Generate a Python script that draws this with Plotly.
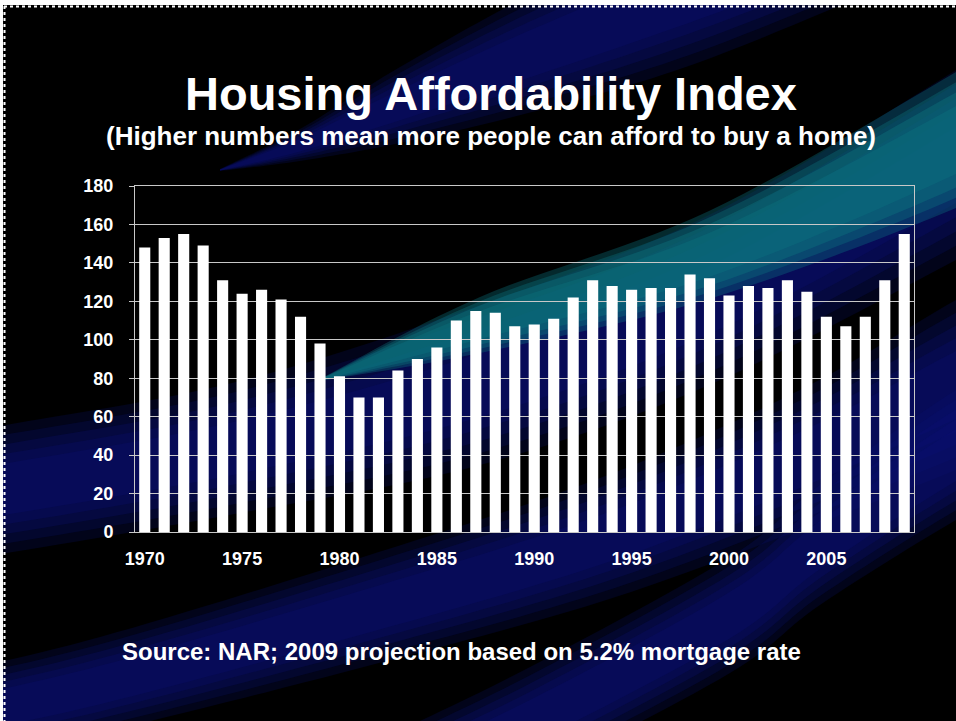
import numpy as np
import plotly.graph_objects as go

# ---------------- data ----------------
years = list(range(1970, 2010))
index_values = [148, 153, 155, 149, 131, 124, 126, 121, 112, 98,
                81, 70, 70, 84, 90, 96, 110, 115, 114, 107,
                108, 111, 122, 131, 128, 126, 127, 127, 134, 132,
                123, 128, 127, 131, 125, 112, 107, 112, 131, 155]
x_tick_vals = [1970, 1975, 1980, 1985, 1990, 1995, 2000, 2005]
x_tick_text = ["1970", "1975", "1980", "1985", "1990", "1995", "2000", "2005"]
y_tick_vals = [0, 20, 40, 60, 80, 100, 120, 140, 160, 180]

title_text = "Housing Affordability Index"
subtitle_text = "(Higher numbers mean more people can afford to buy a home)"
source_text = "Source: NAR; 2009 projection based on 5.2% mortgage rate"

# ---------------- layout geometry (pixels) ----------------
W, H = 956, 721
ML, MR, MT, MB = 135, 42, 186, 189
PW = W - ML - MR
PH = H - MT - MB
FONT = "Liberation Sans, Arial, sans-serif"


def to_paper(x, y):
    return (x - ML) / PW, (MT + PH - y) / PH


def catmull(points, n=14):
    pts = np.array(points, dtype=float)
    pts = np.vstack([pts[0], pts, pts[-1]])
    out = []
    for i in range(1, len(pts) - 2):
        p0, p1, p2, p3 = pts[i - 1], pts[i], pts[i + 1], pts[i + 2]
        for t in np.linspace(0, 1, n, endpoint=False):
            t2, t3 = t * t, t * t * t
            out.append(0.5 * ((2 * p1) + (-p0 + p2) * t +
                              (2 * p0 - 5 * p1 + 4 * p2 - p3) * t2 +
                              (-p0 + 3 * p1 - 3 * p2 + p3) * t3))
    out.append(pts[-2])
    return np.array(out)


def band_shapes(center, hws, color, layers):
    c = catmull(center)
    hw = catmull([(p[0], h) for p, h in zip(center, hws)])[:, 1]
    shapes = []
    for frac, op in layers:
        upper = [(x, y - h * frac) for (x, y), h in zip(c, hw)]
        lower = [(x, y + h * frac) for (x, y), h in zip(c, hw)][::-1]
        pts = [to_paper(x, y) for x, y in upper + lower]
        path = "M " + " L ".join(f"{a:.4f},{b:.4f}" for a, b in pts) + " Z"
        shapes.append(dict(type="path", path=path, xref="paper", yref="paper",
                           fillcolor=color, opacity=op, line=dict(width=0),
                           layer="below"))
    return shapes


navy = "rgb(10,16,120)"
teal = "rgb(12,118,128)"
soft = ((1.0, 0.22), (0.85, 0.22), (0.7, 0.25), (0.55, 0.25), (0.4, 0.25))

shapes = []
# upper navy swoosh (tapering to the lower left, above the plot)
shapes += band_shapes([(900, -80), (700, -10), (540, 50), (400, 105), (300, 145), (220, 170)],
                      [60, 72, 60, 38, 16, 1], navy, soft)
# main swoosh (navy body)
shapes += band_shapes([(-100, 505), (0, 490), (240, 447), (480, 385), (709, 300), (956, 165), (1060, 100)],
                      [62, 64, 66, 80, 85, 95, 100], navy, soft)
# teal core of main swoosh
shapes += band_shapes([(320, 380), (480, 325), (709, 255), (956, 140), (1060, 80)],
                      [1, 28, 44, 68, 72], teal,
                      ((1.0, 0.35), (0.85, 0.35), (0.7, 0.4), (0.5, 0.35)))
# lower navy swoosh
shapes += band_shapes([(-60, 720), (100, 685), (360, 613), (600, 540), (800, 460), (956, 385), (1060, 335)],
                      [45, 48, 55, 62, 70, 85, 90], navy, soft)
# bottom navy swoosh
shapes += band_shapes([(380, 790), (530, 722), (730, 615), (820, 545), (956, 455), (1060, 400)],
                      [50, 55, 58, 60, 65, 65], navy, soft)

# white page edge + dotted border
x0, y0 = to_paper(0, 0)
x1, y1 = to_paper(W, 5)
shapes.append(dict(type="rect", xref="paper", yref="paper", x0=x0, x1=x1, y0=y0 + 0.01, y1=y1,
                   fillcolor="white", line=dict(width=0), layer="above"))
x1, y1 = to_paper(3, H)
shapes.append(dict(type="rect", xref="paper", yref="paper", x0=x0 - 0.01, x1=x1, y0=y1, y1=y0 + 0.01,
                   fillcolor="white", line=dict(width=0), layer="above"))
a0 = to_paper(4, 6.5)
a1 = to_paper(W, 6.5)
shapes.append(dict(type="line", xref="paper", yref="paper", x0=a0[0], y0=a0[1], x1=a1[0], y1=a1[1],
                   line=dict(color="white", width=2, dash="dot"), layer="above"))
b1 = to_paper(4.5, H)
b0 = to_paper(4.5, 6)
shapes.append(dict(type="line", xref="paper", yref="paper", x0=b0[0], y0=b0[1], x1=b1[0], y1=b1[1],
                   line=dict(color="white", width=2, dash="dot"), layer="above"))

fig = go.Figure()
fig.add_trace(go.Bar(x=years, y=index_values, marker=dict(color="white", line=dict(width=0)),
                     hoverinfo="x+y"))

tx, ty = to_paper(491, 93)
sx, sy = to_paper(491, 136)
qx, qy = to_paper(120, 651)
annotations = [
    dict(text=f"<b>{title_text}</b>", x=tx, y=ty, xref="paper", yref="paper",
         xanchor="center", yanchor="middle", showarrow=False,
         font=dict(family=FONT, size=47, color="white")),
    dict(text=f"<b>{subtitle_text}</b>", x=sx, y=sy, xref="paper", yref="paper",
         xanchor="center", yanchor="middle", showarrow=False,
         font=dict(family=FONT, size=26, color="white")),
    dict(text=f"<b>{source_text}</b>", x=qx, y=qy, xref="paper", yref="paper",
         xanchor="left", yanchor="middle", showarrow=False,
         font=dict(family=FONT, size=24, color="white")),
]

fig.update_layout(
    width=W, height=H, autosize=False,
    margin=dict(l=ML, r=MR, t=MT, b=MB, pad=0),
    paper_bgcolor="black", plot_bgcolor="rgba(0,0,0,0)",
    showlegend=False, bargap=0.43,
    shapes=shapes, annotations=annotations,
    font=dict(family=FONT, color="white"),
)
fig.update_xaxes(range=[1969.5, 2009.5], tickvals=x_tick_vals, ticktext=x_tick_text,
                 showgrid=False, zeroline=False, showline=True, linecolor="#c8c8c8",
                 linewidth=1, mirror=True, ticks="", ticklabelstandoff=10,
                 tickfont=dict(family=FONT, size=18, color="white", weight="bold"))
fig.update_yaxes(range=[0, 180], tickvals=y_tick_vals, showgrid=True, gridcolor="#c8c8c8",
                 gridwidth=1, zeroline=False, showline=True, linecolor="#c8c8c8",
                 linewidth=1, mirror=True, ticks="outside", ticklen=5, tickcolor="#c8c8c8",
                 ticklabelstandoff=12,
                 tickfont=dict(family=FONT, size=18, color="white", weight="bold"))

fig.write_html("out.html")
